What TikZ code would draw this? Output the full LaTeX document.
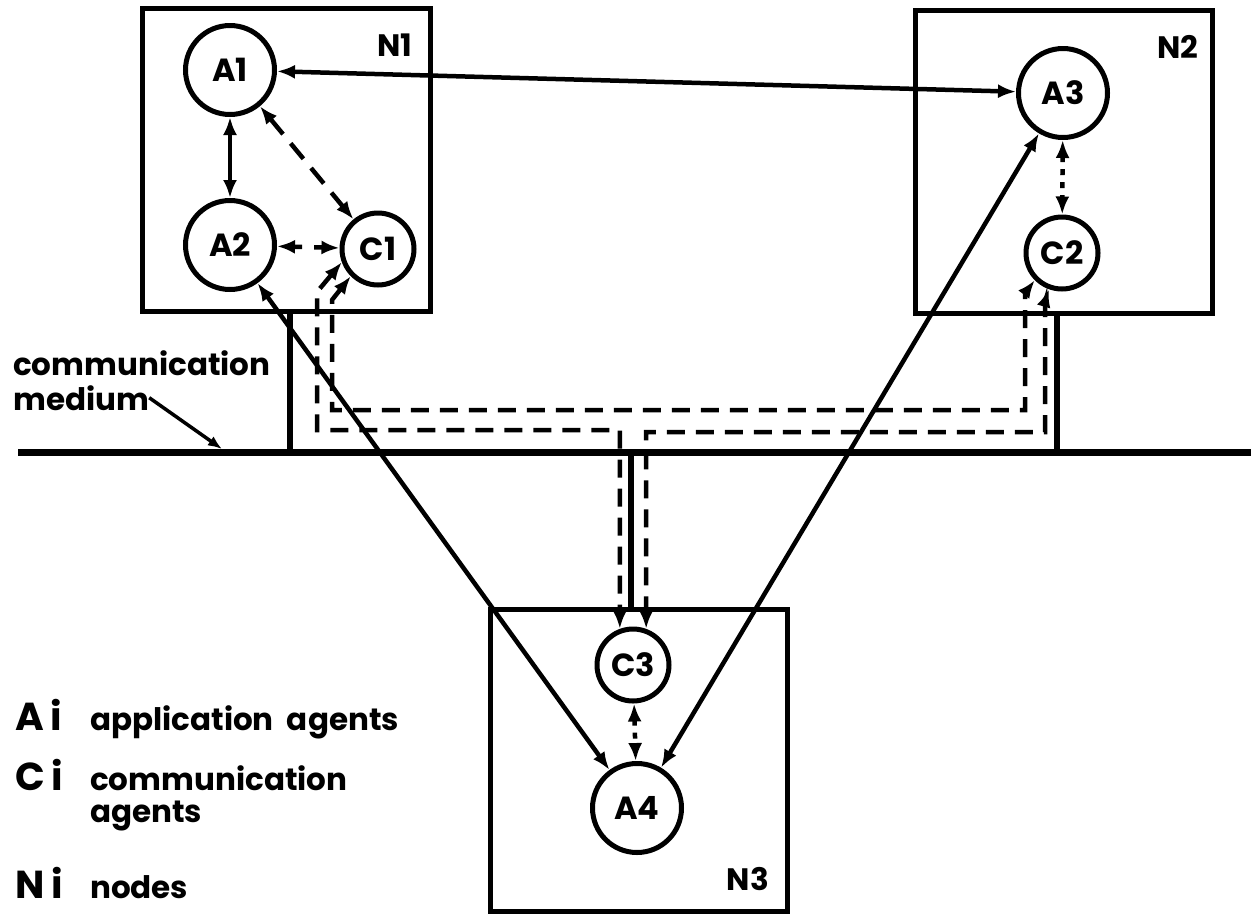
\documentclass[tikz,border=0pt]{standalone}
\usepackage{fontspec}
\setmainfont{Poppins}
\usetikzlibrary{arrows.meta,calc}
\begin{document}
\begin{tikzpicture}[x=1pt,y=-1pt,
  >={Latex[length=18pt,width=14pt]},
  box/.style={draw, line width=5pt, inner sep=0pt, outer sep=0pt, anchor=north west},
  agentA/.style={circle, draw, line width=5pt, inner sep=0pt, minimum size=89pt, font=\fontsize{32}{32}\selectfont\bfseries},
  agentC/.style={agentA, minimum size=72pt},
  nlabel/.style={font=\fontsize{31}{31}\selectfont\bfseries, inner sep=0pt},
  legend/.style={font=\fontsize{31}{33}\selectfont\bfseries, anchor=base west, inner sep=0pt},
  legkey/.style={font=\fontsize{39}{39}\selectfont\bfseries, anchor=base west, inner sep=0pt},
  conn/.style={line width=4.5pt, <->},
  dconn/.style={conn, dash pattern=on 20pt off 12pt},
  sconn/.style={conn, dash pattern=on 9pt off 12pt},
  dotconn/.style={conn, dash pattern=on 6pt off 7pt},
  cpath/.style={line width=4.5pt, <->, dash pattern=on 18pt off 11pt},
  riser/.style={line width=6pt},
  medium/.style={line width=7pt}
]
\useasboundingbox (0,0) rectangle (1251,914);

% node boxes
\node[box, minimum width=288pt, minimum height=303pt] (N1) at (142,8) {};
\node[box, minimum width=297pt, minimum height=303pt] (N2) at (915,10) {};
\node[box, minimum width=297pt, minimum height=302pt] (N3) at (490,609) {};
\node[nlabel] (N1l) at (395,45) {N1};
\node[nlabel] (N2l) at (1178,47) {N2};
\node[nlabel] (N3l) at (748,879) {N3};

% agents
\node[agentA] (A1) at (230,70) {A1};
\node[agentA] (A2) at (230,245) {A2};
\node[agentC] (C1) at (378,249) {C1};
\node[agentA] (A3) at (1063,93) {A3};
\node[agentC] (C2) at (1062,253) {C2};
\node[agentC] (C3) at (633,665) {C3};
\node[agentA] (A4) at (637,808) {A4};

% communication medium
\coordinate (mL) at (18,452);
\coordinate (mR) at (1251,452);
\draw[medium] (mL) -- (mR);
\coordinate (m1) at (290,452);
\coordinate (m2) at (1057,452);
\coordinate (m3) at (631,452);
\draw[riser] (N1.south -| m1) -- (m1);
\draw[riser] (N2.south -| m2) -- (m2);
\draw[riser] (m3) -- (N3.north -| m3);

% connectors
\draw[conn] (A1) -- (A3);
\draw[conn] (A1) -- (A2);
\draw[dconn] (A1) -- (C1);
\draw[sconn] (A2) -- (C1);
\draw[dotconn] (A3) -- (C2);
\draw[dotconn] (C3) -- (A4);
\draw[conn] (A2) -- (A4);
\draw[conn] (A3) -- (A4);

% communication paths
\draw[cpath] (C1.200) -- (317,292) -- (317,430) -| (C3.110);
\draw[cpath] (C1.225) -- (332,300) -- (332,410) -- (1025,410) -- (1025,293) -- (C2.225);
\draw[cpath] (C2.250) -- (1045,302) -- (1045,432) -| (C3.70);

% medium label
\node[legend] (ml1) at (13,375) {communication};
\node[legend] (ml2) at (13,410) {medium};
\coordinate (mp) at (222,449);
\draw[line width=3.5pt, -{Latex[length=14pt,width=11pt]}] (ml2.east) -- (mp);

% legend
\node[legkey] (LA) at (15,730) {A\,i};
\node[legend] (LAt) at (90,730) {application\ \ agents};
\node[legkey] (LC) at (15,790) {C\,i};
\node[legend] (LCt) at (90,790) {communication};
\node[legend] (LCt2) at (90,822) {agents};
\node[legkey] (LN) at (15,898) {N\,i};
\node[legend] (LNt) at (90,898) {nodes};
\end{tikzpicture}
\end{document}
